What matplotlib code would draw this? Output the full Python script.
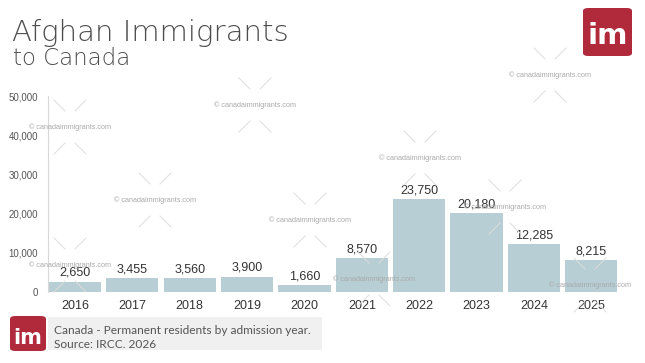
#!/usr/bin/env python3
import matplotlib
matplotlib.use('Agg')
import matplotlib.pyplot as plt
from matplotlib.patches import FancyBboxPatch, Rectangle
from matplotlib.lines import Line2D

years = ['2016', '2017', '2018', '2019', '2020', '2021', '2022', '2023', '2024', '2025']
residents = [2650, 3455, 3560, 3900, 1660, 8570, 23750, 20180, 12285, 8215]
yticks = [0, 10000, 20000, 30000, 40000, 50000]

W, H = 645, 363
bar_color = '#b7ced4'
red = '#b02a3c'
num_font = 'Liberation Sans'


def px(x, y):
	# pixel coords (top-left origin) -> figure fraction
	return x / W, 1 - y / H


fig = plt.figure(figsize=(W / 100, H / 100), dpi=100)
ax = fig.add_axes([48 / W, 1 - 292 / H, (620 - 48) / W, (292 - 96) / H])

x = range(len(years))
ax.bar(x, residents, width=0.91, color=bar_color, zorder=2)
for xi, v in zip(x, residents):
	ax.text(xi, v + 700, f'{v:,}', ha='center', va='bottom', fontsize=9,
		color='#333333', family=num_font, zorder=3)

ax.set_xlim(-0.47, 9.5)
ax.set_ylim(0, 50000)
ax.set_xticks(list(x))
ax.set_xticklabels(years, fontsize=9, color='#333333', family=num_font)
ax.set_yticks(yticks)
ax.set_yticklabels([f'{t:,}' for t in yticks], fontsize=7, color='#555555', family=num_font)
ax.tick_params(length=0, pad=6)
ax.tick_params(axis='y', pad=7)
for s in ['top', 'right', 'bottom']:
	ax.spines[s].set_visible(False)
ax.spines['left'].set_color('#d8d8d8')
ax.spines['left'].set_linewidth(0.8)
ax.patch.set_alpha(0)

# title
fig.text(*px(12, 41), 'Afghan Immigrants', fontsize=21, color='#4d4d4d',
	family='DejaVu Sans', weight='light', va='baseline')
fig.text(*px(13, 65), 'to Canada', fontsize=16.5, color='#4d4d4d',
	family='DejaVu Sans', weight='light', va='baseline')


def logo(x0, y0, x1, y1, fs):
	fx0, fy1 = px(x0, y1)
	fx1, fy0 = px(x1, y0)
	box = FancyBboxPatch((fx0, fy1), fx1 - fx0, fy0 - fy1,
		boxstyle='round,pad=0,rounding_size=0.008', transform=fig.transFigure,
		facecolor=red, edgecolor='none')
	fig.add_artist(box)
	fig.text((fx0 + fx1) / 2, (fy0 + fy1) / 2 - 0.012, 'im', ha='center', va='center',
		fontsize=fs, color='white', weight='bold', family='DejaVu Sans')


logo(583, 8, 632, 56, 21)

# footer
fx0, fy0 = px(48, 350)
fx1, fy1 = px(322, 317)
fig.add_artist(Rectangle((fx0, fy0), fx1 - fx0, fy1 - fy0, transform=fig.transFigure,
	facecolor='#f0f0f0', edgecolor='none'))
logo(10, 316, 46, 351, 15)
fig.text(*px(54, 330), 'Canada - Permanent residents by admission year.', fontsize=8.6,
	color='#555555', family='Lato', va='center')
fig.text(*px(54, 344), 'Source: IRCC. 2026', fontsize=8.6, color='#555555', family='Lato', va='center')

# watermarks
marks = [(70, 127), (255, 105), (155, 200), (310, 220), (420, 158), (550, 75),
	(70, 265), (374, 279), (590, 285), (505, 207)]
for cx, cy in marks:
	fig.text(*px(cx, cy), '\u00a9 canadaimmigrants.com', fontsize=5.2, color='#aaaaaa',
		ha='center', va='center', family=num_font, zorder=5)
	for sx in (-1, 1):
		for sy in (-1, 1):
			a = px(cx + sx * 16, cy + sy * 27)
			b = px(cx + sx * 5, cy + sy * 16)
			fig.add_artist(Line2D([a[0], b[0]], [a[1], b[1]], transform=fig.transFigure,
				color='#dddddd', linewidth=0.7))

fig.savefig('out.png', dpi=100)
